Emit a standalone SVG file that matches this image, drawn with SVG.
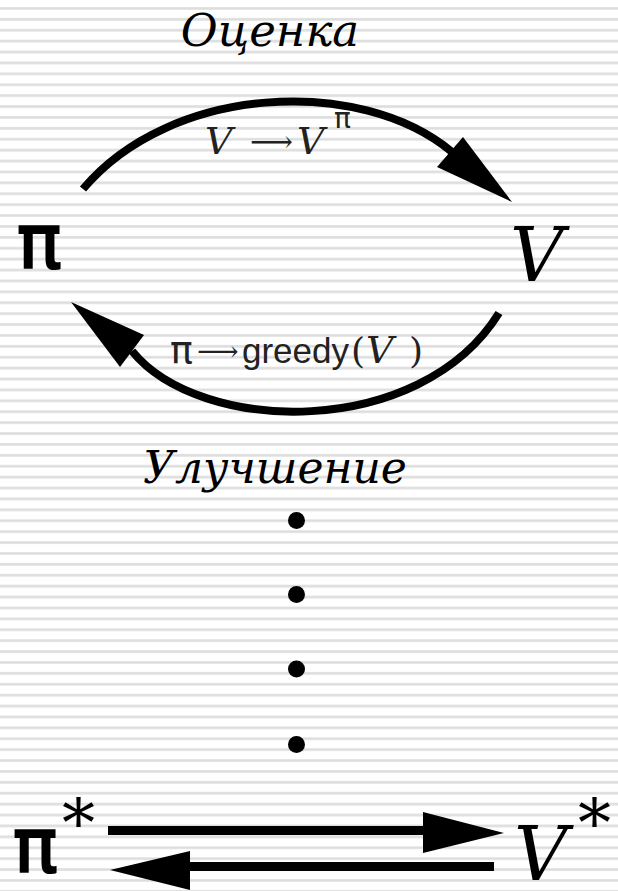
<svg xmlns="http://www.w3.org/2000/svg" width="618" height="891" viewBox="0 0 618 891">
<defs>
<pattern id="stripes" patternUnits="userSpaceOnUse" x="0" y="7" width="618" height="10.9">
<rect x="0" y="0" width="618" height="1.2" fill="#e2e2e2"/>
<rect x="0" y="1.2" width="618" height="1.4" fill="#d6d6d6"/>
</pattern>
<style>
.it{font-family:"DejaVu Serif","Liberation Serif",serif;font-style:italic;fill:#000}
.sym{font-family:"DejaVu Serif","Liberation Serif",serif;fill:#000}
.pi{font-family:"DejaVu Sans","Liberation Sans",sans-serif;fill:#000}
.big{stroke:#000;stroke-width:2.2}
.lbl{fill:#222}
.sans{font-family:"Liberation Sans",Arial,sans-serif;fill:#222}
.arc{fill:none;stroke:#000;stroke-width:8;stroke-linecap:butt}
.head{fill:#000}
.dot{fill:#000}
</style>
</defs>
<rect width="618" height="891" fill="#fff"/>
<rect width="618" height="891" fill="url(#stripes)"/>

<g id="label-eval">
<text class="it" x="270" y="46" font-size="45" text-anchor="middle">Оценка</text>
</g>
<g id="label-improve">
<text class="it" x="275" y="483" font-size="44" text-anchor="middle">Улучшение</text>
</g>

<g id="node-pi">
<text class="pi big" x="17" y="268" font-size="74">π</text>
</g>
<g id="node-V">
<text class="it" x="510" y="281" font-size="74">V</text>
</g>

<g id="connectors">
<path class="arc" d="M83,189 C170,85 360,75 452,152"/>
<polygon class="head" points="463,137 437,167 512,202"/>
<path class="arc" d="M499,313 C420,440 200,435 132,351"/>
<polygon class="head" points="71,302 144,335 120,367"/>
<rect x="108" y="826" width="320" height="9" fill="#000"/>
<polygon class="head" points="423,812 504,833 423,853"/>
<rect x="185" y="862" width="309" height="9" fill="#000"/>
<polygon class="head" points="190,851 110,870 190,890"/>
</g>

<g id="label-vvpi">
<text class="it lbl" x="205" y="154" font-size="38">V</text>
<text class="sym lbl" x="250" y="152" font-size="30">⟶</text>
<text class="it lbl" x="297" y="154" font-size="38">V</text>
<text class="pi lbl" x="334" y="128" font-size="28">π</text>
</g>

<g id="label-greedy">
<text class="pi lbl" x="170" y="363" font-size="38">π</text>
<text class="sym lbl" x="197" y="361" font-size="29">⟶</text>
<text class="sans" x="242" y="363" font-size="35">greedy</text>
<text class="sym lbl" x="351" y="363" font-size="36">(</text>
<text class="it lbl" x="366" y="363" font-size="38">V</text>
<text class="sym lbl" x="409" y="363" font-size="36">)</text>
</g>

<g id="dots">
<circle class="dot" cx="296.5" cy="520.5" r="8.5"/>
<circle class="dot" cx="296.5" cy="594.5" r="8.5"/>
<circle class="dot" cx="296.5" cy="669" r="8.5"/>
<circle class="dot" cx="296.5" cy="744.5" r="8.5"/>
</g>

<g id="node-pistar">
<text class="pi big" x="13" y="872" font-size="74">π</text>
<text class="sym" x="62" y="846" font-size="66">*</text>
</g>
<g id="node-Vstar">
<text class="it" x="514" y="880" font-size="74">V</text>
<text class="sym" x="578" y="846" font-size="66">*</text>
</g>
</svg>
